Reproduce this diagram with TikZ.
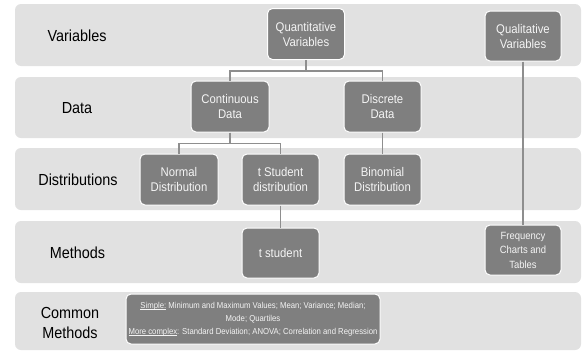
\documentclass[tikz,border=0pt]{standalone}
\usepackage{fontspec}
\setmainfont[FakeStretch=0.9]{Liberation Sans}
\definecolor{bandgray}{HTML}{E1E1E1}
\definecolor{boxgray}{HTML}{7F7F7F}
\definecolor{linegray}{HTML}{8E8E8E}
\definecolor{boxtext}{HTML}{F4F4F4}
\newcommand{\myul}[1]{\setbox0\hbox{#1}\rlap{\rule[-1.4pt]{\wd0}{0.5pt}}\box0\relax}
\begin{document}
\begin{tikzpicture}[x=1pt,y=-1pt,
  band/.style={fill=bandgray, rounded corners=6pt},
  box/.style={draw=white, line width=1pt, fill=boxgray, rounded corners=5pt, text=boxtext,
    font=\fontsize{12.6}{15}\selectfont, align=center, minimum width=77pt, minimum height=51pt, inner sep=1pt},
  lab/.style={font=\fontsize{16}{20}\selectfont, align=center, text=black},
  conn/.style={draw=linegray, line width=1.2pt}]
\useasboundingbox (0,0) rectangle (583,351);
\fill[white] (0,0) rectangle (583,351);
% bands
\fill[band] (15,4) rectangle (581,66);
\fill[band] (15,77) rectangle (581,138);
\fill[band] (15,148) rectangle (581,210);
\fill[band] (15,221) rectangle (581,283);
\fill[band] (15,292) rectangle (581,350);
% row labels
\node[lab] (lvar) at (77,36) {Variables};
\node[lab] (ldata) at (77,108) {Data};
\node[lab] (ldist) at (78,180) {Distributions};
\node[lab] (lmeth) at (77.5,253) {Methods};
\node[lab] (lcomm) at (70,323) {Common\\Methods};
% boxes
\node[box] (qv) at (306,34) {Quantitative\\Variables};
\node[box, minimum width=76pt, minimum height=50pt] (ql) at (523,36) {Qualitative\\Variables};
\node[box, minimum width=78pt] (cd) at (230,106.5) {Continuous\\Data};
\node[box] (dd) at (382.5,106.5) {Discrete\\Data};
\node[box, minimum width=78pt] (nd) at (179,179.5) {Normal\\Distribution};
\node[box] (td) at (280.5,179.5) {t Student\\distribution};
\node[box] (bd) at (382.5,179.5) {Binomial\\Distribution};
\node[box, minimum height=50pt] (ts) at (280.5,253) {t student};
\node[box, minimum width=76pt, minimum height=50pt, font=\fontsize{10.5}{14.5}\selectfont] (fc) at (523,250) {Frequency\\Charts and\\Tables};
\node[box, minimum width=254pt, minimum height=50pt, font=\fontsize{8.6}{13}\selectfont] (cm) at (253,319)
  {\myul{Simple:} Minimum and Maximum Values; Mean; Variance; Median;\\Mode; Quartiles\\\myul{More complex}: Standard Deviation; ANOVA; Correlation and Regression};
% connectors
\draw[conn] (qv.south) -- ++(0,11) -| (cd.north);
\draw[conn] (qv.south) -- ++(0,11) -| (dd.north);
\draw[conn] (cd.south) -- ++(0,11) -| (nd.north);
\draw[conn] (cd.south) -- ++(0,11) -| (td.north);
\draw[conn] (dd.south) -- (bd.north);
\draw[conn] (td.south) -- (ts.north);
\draw[conn] (ql.south) -- (fc.north);
\end{tikzpicture}
\end{document}
